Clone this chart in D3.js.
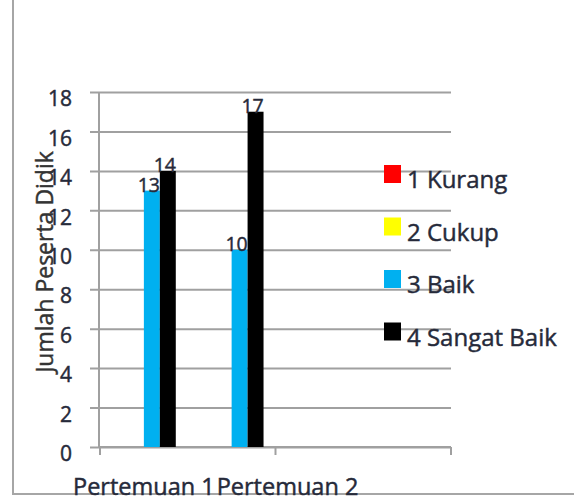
<!DOCTYPE html>
<html>
<head>
<meta charset="utf-8">
<script src="https://cdn.jsdelivr.net/npm/d3@7"></script>
<style>
  html, body { margin: 0; padding: 0; background: #fff; }
  svg { display: block; }
  text { font-family: "Open Sans", "Noto Sans", sans-serif; stroke-width: 0.45px; paint-order: stroke; }
</style>
</head>
<body>
<svg id="chart" width="574" height="502"></svg>
<script>
const categories = ["Pertemuan 1", "Pertemuan 2", "", ""];
const seriesNames = ["1 Kurang", "2 Cukup", "3 Baik", "4 Sangat Baik"];
const seriesColors = ["#ff0000", "#ffff00", "#00b0f0", "#000000"];
const kurang = [0, 0, null, null];
const cukup = [0, 0, null, null];
const baik = [13, 10, null, null];
const sangatBaik = [14, 17, null, null];
const yTicks = [0, 2, 4, 6, 8, 10, 12, 14, 16, 18];
const yTitle = "Jumlah Peserta Didik";

const seriesValues = [kurang, cukup, baik, sangatBaik];
const textColor = "#262a3a";

const svg = d3.select("#chart");
const pLeft = 100, pRight = 451, pTop = 92, pBottom = 447;

const y = d3.scaleLinear().domain([0, 18]).range([pBottom, pTop]);
const x = d3.scaleBand().domain(d3.range(categories.length)).range([pLeft, pRight]).padding(0);
const bw = x.bandwidth();
const groupW = bw * 4 / 5.5;
const xs = d3.scaleBand().domain(d3.range(seriesNames.length)).range([0, groupW]).padding(0);

// outer chart border (left and bottom visible)
svg.append("line").attr("x1", 13).attr("x2", 13).attr("y1", 0).attr("y2", 494)
  .attr("stroke", "#a6a6a6").attr("stroke-width", 2);
svg.append("line").attr("x1", 12).attr("x2", 574).attr("y1", 494).attr("y2", 494)
  .attr("stroke", "#a6a6a6").attr("stroke-width", 2);

// gridlines with outward ticks
const yAxis = d3.axisLeft(y).tickValues(yTicks).tickSize(-(pRight - pLeft)).tickSizeOuter(0).tickPadding(0)
  .tickFormat(d3.format("d"));
const gy = svg.append("g").attr("transform", `translate(${pLeft},0)`).call(yAxis);
gy.select(".domain").remove();
gy.selectAll(".tick line").attr("x1", -10).attr("stroke", "#a0a0a0").attr("stroke-width", 2);
gy.selectAll(".tick text").remove();
gy.selectAll(".tick").append("text")
  .attr("x", -28).attr("dy", "0.32em").attr("y", 7)
  .attr("text-anchor", "end")
  .attr("fill", textColor).attr("stroke", textColor)
  .attr("font-size", 21)
  .text(d => d);

// vertical axis line
svg.append("line").attr("x1", pLeft - 1).attr("x2", pLeft - 1).attr("y1", pTop).attr("y2", pBottom + 1)
  .attr("stroke", "#a0a0a0").attr("stroke-width", 2);

// x axis with ticks every 2 categories
const tickPos = [0, 2, 4].map(i => pLeft + i * bw);
svg.append("line").attr("x1", pLeft).attr("x2", pRight).attr("y1", pBottom).attr("y2", pBottom)
  .attr("stroke", "#a0a0a0").attr("stroke-width", 2);
svg.append("g").selectAll("line").data(tickPos).join("line")
  .attr("x1", d => d).attr("x2", d => d).attr("y1", pBottom).attr("y2", pBottom + 8)
  .attr("stroke", "#a0a0a0").attr("stroke-width", 2);

// bars
const barData = [];
seriesValues.forEach((vals, s) => vals.forEach((v, c) => {
  if (v !== null) barData.push({ s, c, v });
}));
svg.append("g").selectAll("rect").data(barData).join("rect")
  .attr("x", d => x(d.c) + (bw - groupW) / 2 + xs(d.s))
  .attr("width", xs.bandwidth())
  .attr("y", d => y(d.v))
  .attr("height", d => y(0) - y(d.v))
  .attr("fill", d => seriesColors[d.s]);

// data labels
svg.append("g").selectAll("text").data(barData.filter(d => d.v > 0)).join("text")
  .attr("x", d => x(d.c) + (bw - groupW) / 2 + xs(d.s) + xs.bandwidth() / 2 - 3)
  .attr("y", d => y(d.v) + 1)
  .attr("text-anchor", "middle")
  .attr("fill", textColor).attr("stroke", textColor)
  .attr("font-size", 19.5)
  .text(d => d.v);

// category labels (second label is pushed right of its band, as in the original)
svg.append("g").selectAll("text").data(categories).join("text")
  .attr("x", (d, i) => i === 0 ? x(i) + bw / 2 : x(i + 1) + 12)
  .attr("y", 495)
  .attr("text-anchor", "middle")
  .attr("fill", textColor).attr("stroke", textColor)
  .attr("font-size", 23.5)
  .text(d => d);

// y title
svg.append("text")
  .attr("transform", "translate(53,262) rotate(-90)")
  .attr("text-anchor", "middle")
  .attr("fill", "#333").attr("stroke", "#333")
  .attr("font-size", 23)
  .text(yTitle);

// legend
const legend = svg.append("g").selectAll("g").data(seriesNames).join("g")
  .attr("transform", (d, i) => `translate(384,${165 + i * 52.5})`);
legend.append("rect").attr("width", 17).attr("height", 18).attr("fill", (d, i) => seriesColors[i]);
legend.append("text").attr("x", 23).attr("y", 23)
  .attr("fill", textColor).attr("stroke", textColor)
  .attr("font-size", 24).text(d => d);
</script>
</body>
</html>
